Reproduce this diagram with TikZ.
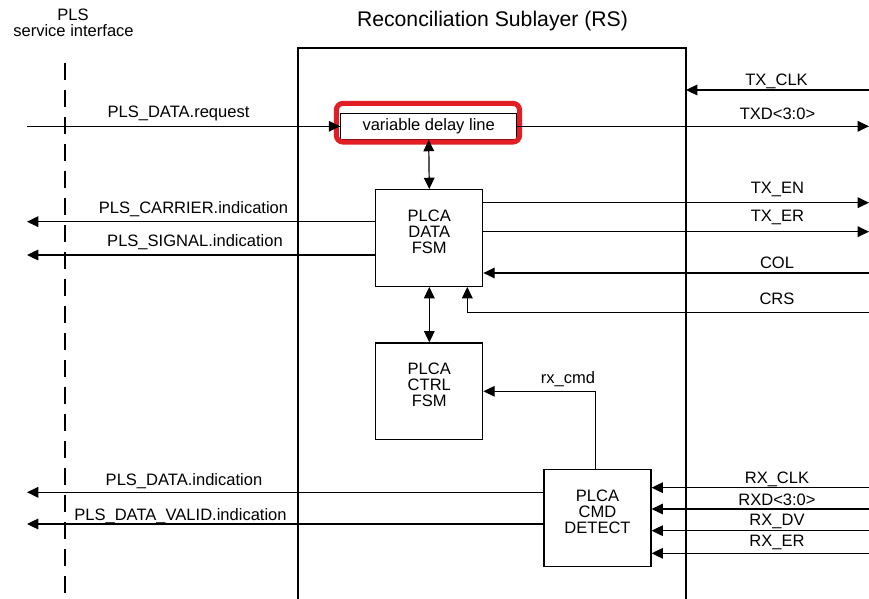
\documentclass[tikz,border=0pt]{standalone}
\usepackage{fontspec}
\setmainfont{Liberation Sans}
\usepackage{xcolor}
\usepackage{tikz}
\usetikzlibrary{positioning,arrows.meta}

\definecolor{markred}{RGB}{226,30,36}
\newcommand{\sigfont}{\fontsize{12.4}{12.2}\selectfont}
\newcommand{\titlefont}{\fontsize{15.9}{18}\selectfont}

\tikzset{
    fsmbox/.style={draw, line width=0.9pt, minimum width=80.25pt, minimum height=72.5pt, inner sep=0pt},
    boxtext/.style={align=center, font=\sigfont, inner sep=0pt},
    delaybox/.style={draw, line width=0.9pt, minimum width=132pt, minimum height=19.5pt, inner sep=0pt, font=\sigfont},
    sig/.style={line width=0.9pt, -{Triangle[length=8.5pt,width=8pt]}},
    dsig/.style={line width=0.9pt, {Triangle[length=8.5pt,width=8pt]}-{Triangle[length=8.5pt,width=8pt]}},
    siglabel/.style={font=\sigfont, anchor=base, inner sep=0pt},
    rsline/.style={line width=0.9pt},
    ifline/.style={line width=0.9pt, dash pattern=on 13pt off 7.25pt},
    highlight/.style={draw=markred, line width=3.8pt, rounded corners=5pt},
}

\begin{document}
\begin{tikzpicture}[x=0.75pt, y=-0.75pt]
    \useasboundingbox (0,0) rectangle (869,599);

    % titles
    \node[siglabel] (plstitle) at (73,21) {PLS};
    \node[siglabel] (plsif) at (73.5,37) {service interface};
    \node[siglabel, font=\titlefont] (rstitle) at (492.5,27) {Reconciliation Sublayer (RS)};

    % service interface and RS outline
    \draw[ifline] (65,63) -- (65,599);
    \draw[rsline] (298,599) |- (686,48) -- (686,599);
    \coordinate (rsright) at (686,48);

    % blocks
    \node[delaybox] (delay) at (428.7,126.3) {variable delay line};
    \draw[highlight] ([shift={(-2.8pt,7pt)}]delay.north west) rectangle ([shift={(1.7pt,-1.6pt)}]delay.south east);
    \node[fsmbox] (datafsm) at (429.3,238) {};
    \node[boxtext] at (429.3,232) {PLCA\\DATA\\FSM};
    \node[fsmbox] (ctrlfsm) at (429.3,391.3) {};
    \node[boxtext] at (429.3,385) {PLCA\\CTRL\\FSM};
    \node[fsmbox] (cmddet) at (597.5,518) {};
    \node[boxtext] at (597.5,511.7) {PLCA\\CMD\\DETECT};

    % between blocks
    \draw[dsig] (delay.south) -- (datafsm.north);
    \draw[dsig] (datafsm.south) -- (ctrlfsm.north);
    \draw[sig] ([xshift=-1.35pt]cmddet.north) |- (ctrlfsm.east);
    \node[siglabel] (rxcmdlbl) at (568,383.3) {rx\_cmd};

    % PLS side
    \coordinate (reqin) at (27,126.3);
    \draw[rsline] (reqin) -- (delay.west);
    \draw[sig] (298,126.3) -- (delay.west);
    \node[siglabel] (reqlbl) at (178.5,118) {PLS\_DATA.request};
    \coordinate (carrier) at (27,221.7);
    \draw[sig] (datafsm.west |- carrier) -- (carrier);
    \node[siglabel] (carrierlbl) at (193.5,213.3) {PLS\_CARRIER.indication};
    \coordinate (signal) at (27,255);
    \draw[sig] (datafsm.west |- signal) -- (signal);
    \node[siglabel] (signallbl) at (195,246.7) {PLS\_SIGNAL.indication};
    \coordinate (dataind) at (27,492.3);
    \draw[sig] (cmddet.west |- dataind) -- (dataind);
    \node[siglabel] (dataindlbl) at (184,485) {PLS\_DATA.indication};
    \coordinate (validind) at (27,524);
    \draw[sig] (cmddet.west |- validind) -- (validind);
    \node[siglabel] (validindlbl) at (180.5,520) {PLS\_DATA\_VALID.indication};

    % MII side, transmit
    \coordinate (txclk) at (869,90);
    \draw[sig] (txclk) -- (txclk -| rsright);
    \node[siglabel] (txclklbl) at (776.5,85.5) {TX\_CLK};
    \coordinate (txd) at (869,126.3);
    \draw[sig] (delay.east) -- (txd);
    \node[siglabel] (txdlbl) at (777.5,120) {TXD<3:0>};
    \coordinate (txen) at (869,202.7);
    \draw[sig] (datafsm.east |- txen) -- (txen);
    \node[siglabel] (txenlbl) at (777.5,194) {TX\_EN};
    \coordinate (txer) at (869,231.7);
    \draw[sig] (datafsm.east |- txer) -- (txer);
    \node[siglabel] (txerlbl) at (777.5,221.7) {TX\_ER};
    \coordinate (col) at (869,273);
    \draw[sig] (col) -- (datafsm.east |- col);
    \node[siglabel] (collbl) at (777,269) {COL};
    \coordinate (crs) at (869,312.7);
    \draw[sig] (crs) -| ([xshift=28.5pt]datafsm.south);
    \node[siglabel] (crslbl) at (777,305) {CRS};

    % MII side, receive
    \foreach \y/\ly/\txt in {487.7/483.3/RX\_CLK, 509/505.7/RXD<3:0>, 530.7/525/RX\_DV, 553.3/546.7/RX\_ER}{
        \coordinate (rx) at (869,\y);
        \draw[sig] (rx) -- (cmddet.east |- rx);
        \node[siglabel] at (777,\ly) {\txt};
    }
\end{tikzpicture}
\end{document}
